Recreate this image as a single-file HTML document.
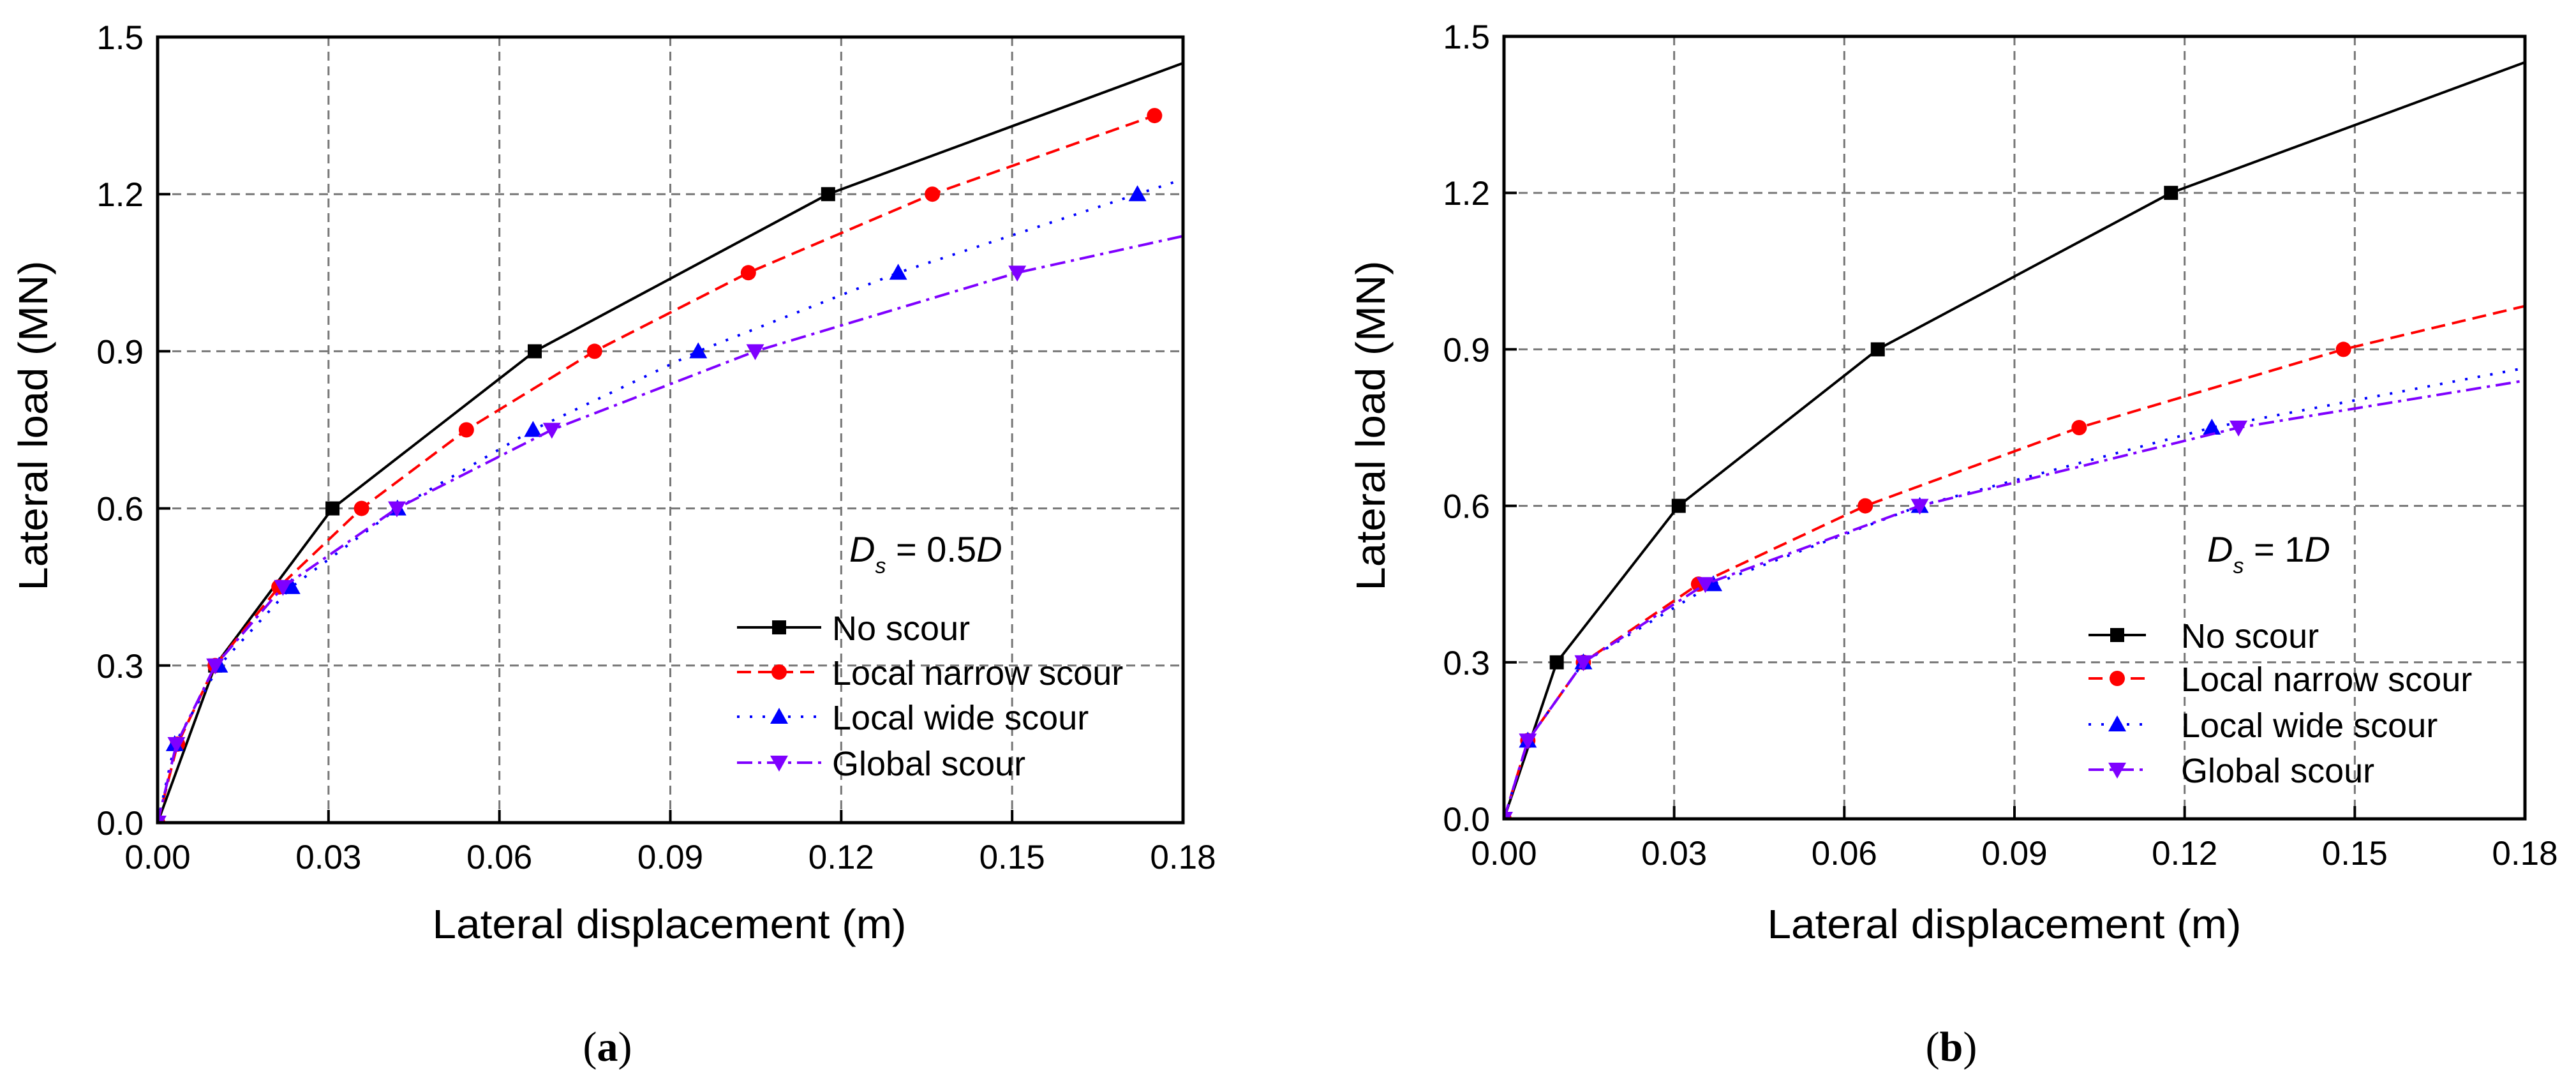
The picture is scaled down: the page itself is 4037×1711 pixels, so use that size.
<!DOCTYPE html>
<html><head><meta charset="utf-8"><style>
html,body{margin:0;padding:0;background:#fff;}
svg{display:block;}
text{font-family:"Liberation Sans",Arial,sans-serif;fill:#000;}
</style></head><body>
<svg id="fig" width="4037" height="1711" viewBox="0 0 4037 1711" xmlns="http://www.w3.org/2000/svg">
<rect x="0" y="0" width="4037" height="1711" fill="#fff"/>
</svg>
<script>
// shared ticks
const xTicks = [0, 0.03, 0.06, 0.09, 0.12, 0.15, 0.18];
const xTickLabels = ["0.00","0.03","0.06","0.09","0.12","0.15","0.18"];
const yTicks = [0, 0.3, 0.6, 0.9, 1.2, 1.5];
const yTickLabels = ["0.0","0.3","0.6","0.9","1.2","1.5"];
const seriesNames = ["No scour","Local narrow scour","Local wide scour","Global scour"];

// panel (a) Ds = 0.5D
const aNoX = [0, 0.0101, 0.0307, 0.0662, 0.1177, 0.1924];
const aNoY = [0, 0.3, 0.6, 0.9, 1.2, 1.5];
const aNarrowX = [0, 0.0035, 0.0101, 0.0213, 0.0358, 0.0542, 0.0767, 0.1037, 0.136, 0.175];
const aNarrowY = [0, 0.15, 0.3, 0.45, 0.6, 0.75, 0.9, 1.05, 1.2, 1.35];
const aWideX = [0, 0.003, 0.0108, 0.0235, 0.0421, 0.0659, 0.0949, 0.130, 0.172, 0.19];
const aWideY = [0, 0.15, 0.3, 0.45, 0.6, 0.75, 0.9, 1.05, 1.2, 1.264];
const aGlobalX = [0, 0.0033, 0.0101, 0.022, 0.042, 0.0692, 0.1049, 0.1509, 0.19];
const aGlobalY = [0, 0.15, 0.3, 0.45, 0.6, 0.75, 0.9, 1.05, 1.144];

// panel (b) Ds = 1D
const bNoX = [0, 0.0093, 0.0308, 0.0659, 0.1176, 0.1924];
const bNoY = [0, 0.3, 0.6, 0.9, 1.2, 1.5];
const bNarrowX = [0, 0.0042, 0.014, 0.0343, 0.0637, 0.1014, 0.148, 0.19];
const bNarrowY = [0, 0.15, 0.3, 0.45, 0.6, 0.75, 0.9, 1.009];
const bWideX = [0, 0.0042, 0.014, 0.0369, 0.0733, 0.1248, 0.19];
const bWideY = [0, 0.15, 0.3, 0.45, 0.6, 0.75, 0.885];
const bGlobalX = [0, 0.0042, 0.014, 0.0355, 0.0733, 0.1295, 0.19];
const bGlobalY = [0, 0.15, 0.3, 0.45, 0.6, 0.75, 0.858];

const NS = "http://www.w3.org/2000/svg";
const svg = document.getElementById('fig');
function mk(tag, attrs, parent){
  const e = document.createElementNS(NS, tag);
  for (const k in attrs) e.setAttribute(k, attrs[k]);
  (parent||svg).appendChild(e);
  return e;
}
const styles = [
  {color:"#000000", dash:"", marker:"square"},
  {color:"#ff0000", dash:"22 11", marker:"circle"},
  {color:"#0000ff", dash:"4 16", marker:"up"},
  {color:"#7f00ff", dash:"24 9 5 9", marker:"down"}
];
function marker(type, cx, cy, color, g){
  let m;
  if (type==="square") m = mk('rect',{x:cx-11,y:cy-11,width:22,height:22,fill:color},g);
  else if (type==="circle") m = mk('circle',{cx:cx,cy:cy,r:12,fill:color},g);
  else if (type==="up") m = mk('polygon',{points:`${cx-14},${cy+11} ${cx+14},${cy+11} ${cx},${cy-14}`,fill:color},g);
  else m = mk('polygon',{points:`${cx-14},${cy-11} ${cx+14},${cy-11} ${cx},${cy+14}`,fill:color},g);
  return m;
}

function panel(id, L, T, R, B, data, legX, legTextX, legY, annX, annTxt, yTitleX, xTitleX, capX, capTxt){
  const g = mk('g',{});
  
  
  const sx = v => L + v/0.18*(R-L);
  const sy = v => B - v/1.5*(B-T);
  // grid
  xTicks.forEach((t,i)=>{
    if (i>0 && i<xTicks.length-1){
      const gl = mk('line',{x1:sx(t),x2:sx(t),y1:T,y2:B,stroke:"#777",'stroke-width':3,'stroke-dasharray':"14 9"},g);
      
      
    }
    const tk = mk('line',{x1:sx(t),x2:sx(t),y1:B,y2:B-20,stroke:"#000",'stroke-width':4},g);
    
    
    const lb = mk('text',{x:sx(t),y:B+72,'font-size':53,'text-anchor':'middle'},g);
    lb.textContent = xTickLabels[i];
    
    
  });
  yTicks.forEach((t,i)=>{
    if (i>0 && i<yTicks.length-1){
      const gl = mk('line',{x1:L,x2:R,y1:sy(t),y2:sy(t),stroke:"#777",'stroke-width':3,'stroke-dasharray':"14 9"},g);
      
      
    }
    const tk = mk('line',{x1:L,x2:L+20,y1:sy(t),y2:sy(t),stroke:"#000",'stroke-width':4},g);
    
    
    const lb = mk('text',{x:L-22,y:sy(t)+19,'font-size':53,'text-anchor':'end'},g);
    lb.textContent = yTickLabels[i];
    
    
  });
  // clip
  const cp = mk('clipPath',{id:id+'-clip'},g);
  mk('rect',{x:L,y:T-2,width:R-L,height:B-T+4},cp);
  const plot = mk('g',{'clip-path':`url(#${id}-clip)`},g);
  
  
  data.forEach((s,si)=>{
    const st = styles[si];
    const pts = s.x.map((v,i)=>sx(v)+','+sy(s.y[i])).join(' ');
    const pl = mk('polyline',{points:pts,fill:'none',stroke:st.color,'stroke-width':4,'stroke-dasharray':st.dash,'stroke-linejoin':'round'},plot);
    
    
    s.x.forEach((v,i)=>{
      if (v>0.18) return;
      const m = marker(st.marker, sx(v), sy(s.y[i]), st.color, plot);
      
      
    });
  });
  const fr = mk('rect',{x:L,y:T,width:R-L,height:B-T,fill:'none',stroke:'#000','stroke-width':5},g);
  
  
  // legend
  const lg = mk('g',{},g);
  
  
  seriesNames.forEach((n,si)=>{
    const st = styles[si];
    const y = legY[si];
    const e = mk('g',{},lg);
    
    
    mk('line',{x1:legX[0],x2:legX[1],y1:y,y2:y,stroke:st.color,'stroke-width':4,'stroke-dasharray':st.dash},e);
    marker(st.marker,(legX[0]+legX[1])/2,y,st.color,e);
    const t = mk('text',{x:legTextX,y:y+20,'font-size':54},e);
    t.textContent = n;
  });
  // annotation
  const an = mk('text',{x:annX,y:880,'font-size':56},g);
  
  
  an.innerHTML = `<tspan font-style="italic">D</tspan><tspan font-style="italic" font-size="34" dy="18">s</tspan><tspan dy="-18"> = ${annTxt}</tspan><tspan font-style="italic">D</tspan>`;
  // titles
  const xt = mk('text',{x:xTitleX,y:1470,'font-size':64,'text-anchor':'middle',textLength:743,lengthAdjust:'spacingAndGlyphs'},g);
  xt.textContent = "Lateral displacement (m)";
  
  
  const yt = mk('text',{x:0,y:0,'font-size':64,'text-anchor':'middle',transform:`translate(${yTitleX},667) rotate(-90)`,textLength:517,lengthAdjust:'spacingAndGlyphs'},g);
  yt.textContent = "Lateral load (MN)";
  
  
  const cap = mk('text',{x:capX,y:1662,'font-size':66,'text-anchor':'middle'},g);
  cap.setAttribute('style','font-family:"Liberation Serif",serif');
  cap.innerHTML = `(<tspan font-weight="bold">${capTxt}</tspan>)`;
  
  
}

panel('panel-a', 247, 58, 1854, 1289,
  [{x:aNoX,y:aNoY},{x:aNarrowX,y:aNarrowY},{x:aWideX,y:aWideY},{x:aGlobalX,y:aGlobalY}],
  [1155,1287], 1304, [983,1053,1123,1195], 1331, "0.5", 74, 1049, 952, "a");
panel('panel-b', 2357, 57, 3957, 1283,
  [{x:bNoX,y:bNoY},{x:bNarrowX,y:bNarrowY},{x:bWideX,y:bWideY},{x:bGlobalX,y:bGlobalY}],
  [3273,3363], 3418, [995,1063,1135,1206], 3459, "1", 2170, 3141, 3058, "b");
</script>
</body></html>
